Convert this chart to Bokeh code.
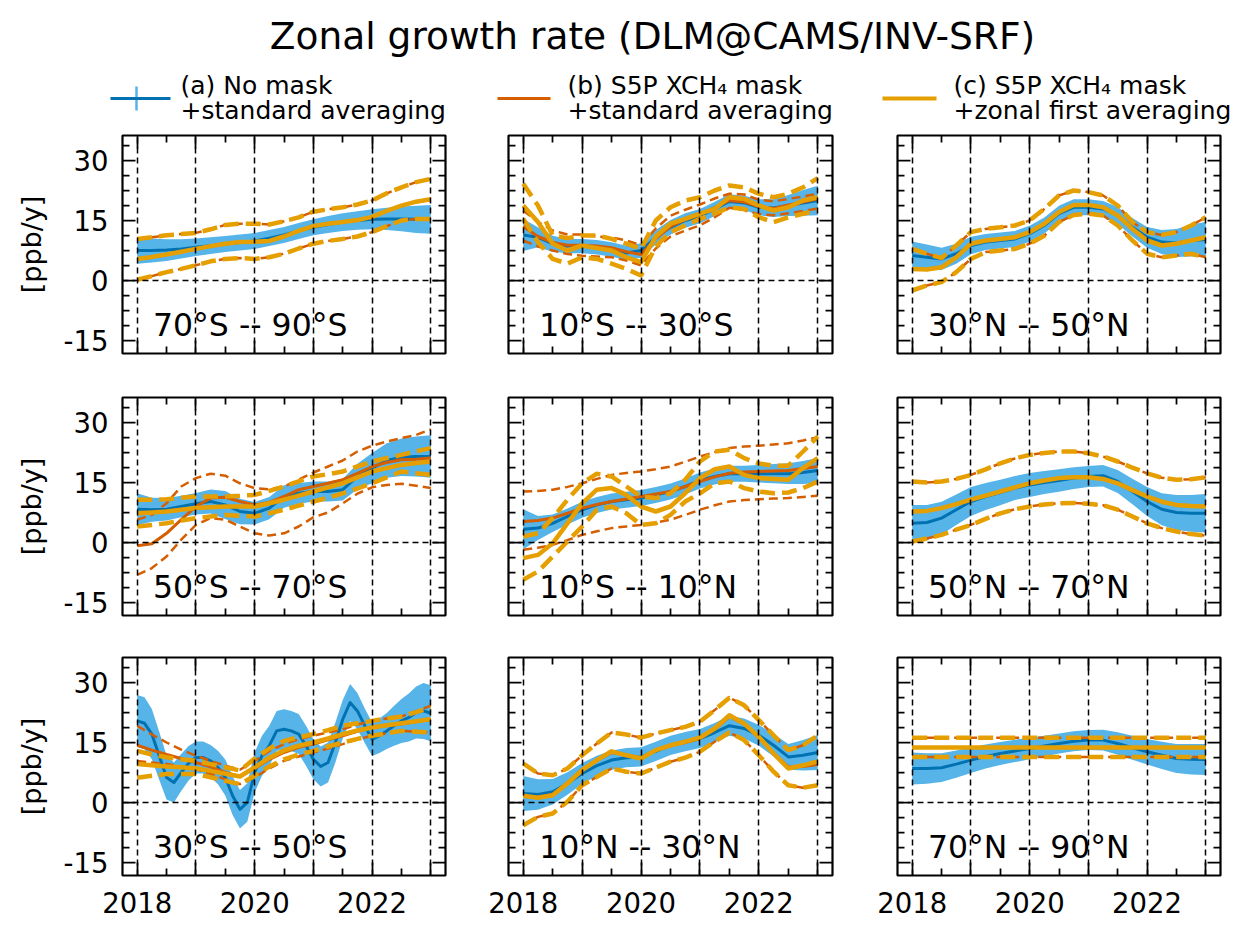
import numpy as np
from bokeh.plotting import figure
from bokeh.models import Range1d, FixedTicker, LinearAxis, Label, Grid, CustomJSTickFormatter
from bokeh.layouts import column, row
from bokeh.embed import file_html
from bokeh.resources import INLINE
from bokeh.core.properties import value

FONT = "DejaVu Sans"
BLUE = "#0072b2"
SKY = "#56b4e9"
VERM = "#d55e00"
GOLD = "#e69f00"

TITLE = "Zonal growth rate (DLM@CAMS/INV-SRF)"
LEGEND_LINES = [("(a) No mask", "+standard averaging"),
                ("(b) S5P XCH\u2084 mask", "+standard averaging"),
                ("(c) S5P XCH\u2084 mask", "+zonal first averaging")]
Y_LABEL = "[ppb/y]"

# time axes (decimal years)
T_Q = [2018.0, 2018.25, 2018.5, 2018.75, 2019.0, 2019.25, 2019.5, 2019.75, 2020.0, 2020.25,
       2020.5, 2020.75, 2021.0, 2021.25, 2021.5, 2021.75, 2022.0, 2022.25, 2022.5, 2022.75, 2023.0]
T_E = [2018.0, 2018.125, 2018.25, 2018.375, 2018.5, 2018.625, 2018.75, 2018.875, 2019.0, 2019.125,
       2019.25, 2019.375, 2019.5, 2019.625, 2019.75, 2019.875, 2020.0, 2020.125, 2020.25, 2020.375,
       2020.5, 2020.625, 2020.75, 2020.875, 2021.0, 2021.125, 2021.25, 2021.375, 2021.5, 2021.625,
       2021.75, 2021.875, 2022.0, 2022.125, 2022.25, 2022.375, 2022.5, 2022.625, 2022.75, 2022.875, 2023.0]

YEARS = [2018, 2019, 2020, 2021, 2022, 2023]
X_MINOR = [2018.5, 2019.5, 2020.5, 2021.5, 2022.5]
X_LABELS = {2018: "2018", 2019: "", 2020: "2020", 2021: "", 2022: "2022", 2023: ""}
Y_TICKS = [-15, 0, 15, 30]
Y_MINOR = [-11.25, -7.5, -3.75, 3.75, 7.5, 11.25, 18.75, 22.5, 26.25, 33.75]
Y_LABELS = {-15: "-15", 0: "0", 15: "15", 30: "30"}

# ---------------- 70°S -- 90°S ----------------
S70_90_a_mean = [7.5, 7.5, 7.6, 7.9, 8.3, 8.7, 9.1, 9.5, 9.9, 10.6, 11.4, 12.4, 13.3, 14.0, 14.6, 15.0, 15.3, 15.4, 15.4, 15.3, 15.3]
S70_90_a_unc = [3.3, 3.0, 2.7, 2.4, 2.2, 2.1, 2.0, 2.0, 2.0, 2.0, 2.0, 2.0, 2.0, 2.1, 2.2, 2.3, 2.5, 2.8, 3.1, 3.4, 3.6]
S70_90_c_mid = [5.4, 5.9, 6.5, 7.2, 7.9, 8.6, 9.2, 9.6, 9.7, 9.9, 11.0, 12.4, 13.6, 14.2, 14.6, 15.1, 15.9, 17.4, 18.7, 19.7, 20.3]
S70_90_c_hi = [10.4, 10.8, 11.3, 11.6, 11.9, 12.8, 13.9, 14.2, 14.2, 14.0, 14.8, 15.8, 17.2, 17.8, 18.3, 19.0, 20.0, 21.8, 23.3, 24.6, 25.4]
S70_90_c_lo = [0.2, 1.1, 2.1, 2.9, 3.8, 4.8, 5.4, 5.6, 5.4, 5.8, 6.7, 8.0, 9.2, 9.9, 10.4, 11.0, 12.1, 13.6, 15.0, 15.4, 15.4]
S70_90_b_mid = S70_90_c_mid
S70_90_b_hi = S70_90_c_hi
S70_90_b_lo = S70_90_c_lo

# ---------------- 10°S -- 30°S ----------------
S10_30_a_mean = [11.4, 10.8, 9.2, 8.6, 8.6, 8.3, 7.75, 6.9, 7.5, 10.8, 13.3, 15.0, 16.1, 17.9, 19.75, 19.4, 18.3, 18.1, 18.75, 19.4, 20.0]
S10_30_a_unc = [4.0, 2.5, 2.0, 1.8, 1.8, 1.8, 1.8, 1.8, 1.8, 1.8, 1.8, 1.8, 1.8, 1.8, 1.8, 1.8, 2.0, 2.2, 2.6, 3.2, 3.7]
S10_30_b_mid = [13.5, 11.0, 9.5, 8.8, 8.8, 8.6, 8.2, 7.2, 6.5, 10.5, 13.5, 15.2, 16.5, 18.2, 20.0, 19.6, 18.5, 18.0, 18.9, 19.6, 20.4]
S10_30_b_hi = [17.5, 14.6, 12.5, 11.5, 11.5, 11.0, 10.8, 10.0, 8.8, 13.0, 16.2, 17.7, 19.0, 20.5, 21.7, 21.5, 20.2, 19.8, 20.4, 21.0, 21.7]
S10_30_b_lo = [10.0, 8.5, 7.5, 6.6, 6.2, 6.0, 5.8, 5.0, 3.8, 8.0, 11.0, 12.5, 13.8, 15.8, 18.2, 17.6, 16.6, 16.3, 16.8, 17.4, 18.0]
S10_30_c_mid = [18.75, 14.6, 9.2, 7.5, 8.75, 8.1, 7.5, 5.8, 4.6, 11.0, 14.2, 15.4, 16.7, 17.9, 20.8, 20.4, 18.75, 17.5, 18.3, 20.0, 20.8]
S10_30_c_hi = [24.2, 18.75, 11.25, 10.6, 11.25, 11.25, 10.4, 9.2, 7.9, 15.0, 18.3, 20.0, 20.8, 22.5, 23.75, 23.3, 21.7, 20.8, 21.7, 23.3, 25.6]
S10_30_c_lo = [15.4, 9.6, 5.4, 4.2, 5.8, 5.4, 4.2, 2.9, 1.25, 8.5, 12.1, 13.75, 15.4, 16.7, 18.3, 17.9, 15.8, 14.6, 15.8, 16.7, 17.5]

# ---------------- 30°N -- 50°N ----------------
N30_50_a_mean = [6.25, 5.8, 5.4, 6.7, 8.75, 9.6, 10.0, 10.4, 11.7, 13.75, 16.7, 18.3, 18.3, 17.9, 16.25, 13.3, 10.8, 9.6, 9.4, 10.0, 10.25]
N30_50_a_unc = [3.5, 3.2, 2.8, 2.5, 2.2, 2.0, 2.0, 2.0, 2.0, 2.0, 2.0, 2.0, 2.0, 2.0, 2.1, 2.3, 2.6, 3.0, 3.5, 4.0, 4.4]
N30_50_c_mid = [2.9, 2.75, 3.3, 5.8, 9.2, 10.0, 10.4, 10.8, 12.1, 14.2, 17.1, 18.9, 18.9, 18.3, 16.25, 12.9, 10.0, 8.75, 9.2, 10.0, 10.8]
N30_50_c_hi = [7.9, 6.7, 5.6, 8.75, 12.1, 12.9, 13.3, 13.75, 15.0, 17.9, 21.25, 22.5, 22.1, 21.25, 18.75, 14.6, 12.1, 11.4, 12.1, 13.75, 15.8]
N30_50_c_lo = [-2.5, -1.25, -0.4, 2.1, 5.4, 7.1, 7.5, 7.9, 9.2, 11.2, 14.6, 16.4, 16.7, 16.25, 13.75, 10.0, 6.7, 5.8, 6.25, 6.7, 5.8]
N30_50_b_mid = N30_50_c_mid
N30_50_b_hi = N30_50_c_hi
N30_50_b_lo = N30_50_c_lo

# ---------------- 50°S -- 70°S ----------------
S50_70_a_mean = [8.3, 8.2, 8.3, 9.0, 9.7, 10.25, 9.4, 7.75, 7.3, 8.6, 11.5, 12.3, 12.75, 12.75, 13.2, 16.5, 18.6, 20.5, 21.3, 21.5, 21.5]
S50_70_a_unc = [4.0, 3.0, 2.8, 2.7, 2.7, 3.0, 3.5, 3.2, 2.8, 2.8, 2.8, 2.6, 2.5, 2.5, 2.7, 3.2, 3.8, 4.3, 4.7, 5.0, 5.3]
S50_70_b_mid = [-0.8, -0.3, 2.3, 5.7, 9.0, 11.1, 11.3, 10.25, 9.4, 10.0, 11.5, 13.2, 14.0, 14.8, 15.7, 17.3, 19.0, 20.0, 20.7, 20.8, 21.1]
S50_70_b_hi = [5.7, 6.9, 9.8, 14.0, 16.1, 17.2, 16.7, 14.8, 13.6, 13.3, 14.0, 15.7, 17.5, 19.0, 20.5, 22.75, 24.2, 25.25, 26.1, 26.9, 28.3]
S50_70_b_lo = [-8.1, -6.4, -3.5, 0.7, 4.4, 6.1, 5.7, 4.0, 2.3, 1.75, 2.3, 4.0, 6.3, 7.5, 9.8, 12.2, 13.8, 14.4, 14.7, 14.2, 13.6]
S50_70_c_mid = [7.3, 7.5, 7.75, 8.2, 8.6, 8.8, 9.0, 9.0, 9.0, 9.8, 10.7, 11.7, 12.75, 13.8, 14.8, 16.3, 17.75, 18.6, 19.4, 19.9, 20.25]
S50_70_c_hi = [10.7, 10.7, 10.8, 11.2, 11.5, 11.5, 11.5, 11.7, 11.9, 12.9, 14.0, 15.3, 16.5, 17.1, 17.75, 19.0, 20.25, 21.1, 21.9, 22.8, 23.6]
S50_70_c_lo = [4.0, 4.4, 4.8, 5.5, 6.1, 6.5, 6.9, 6.7, 6.5, 7.3, 8.2, 9.2, 10.25, 11.2, 12.3, 13.5, 14.8, 16.3, 17.75, 17.3, 16.9]

# ---------------- 10°S -- 10°N ----------------
EQ_a_mean = [3.3, 3.6, 4.8, 6.5, 8.2, 9.4, 10.25, 10.7, 11.1, 11.9, 12.75, 14.0, 15.5, 16.5, 17.2, 17.2, 17.2, 17.2, 17.2, 17.5, 18.0]
EQ_a_unc = [5.0, 3.0, 2.2, 2.0, 2.0, 2.0, 2.0, 2.0, 2.0, 2.0, 2.0, 2.0, 2.0, 2.0, 2.0, 2.0, 2.2, 2.4, 2.6, 2.9, 3.1]
EQ_b_mid = [5.25, 5.5, 6.1, 7.3, 8.6, 9.5, 10.25, 10.9, 11.5, 12.1, 12.75, 14.0, 15.25, 16.4, 17.3, 17.6, 17.75, 17.9, 18.0, 18.5, 19.0]
EQ_b_hi = [12.75, 12.9, 13.2, 13.9, 14.8, 15.9, 16.9, 17.4, 17.75, 18.3, 19.0, 20.2, 21.5, 22.6, 23.6, 24.0, 24.2, 24.5, 24.8, 25.5, 26.3]
EQ_b_lo = [-1.8, -1.3, -0.6, 0.6, 1.9, 2.8, 3.6, 4.0, 4.4, 5.0, 5.7, 6.9, 8.2, 9.3, 10.25, 10.6, 10.8, 11.0, 11.1, 11.4, 11.7]
EQ_c_mid = [-3.9, -3.1, -0.2, 4.8, 9.8, 13.2, 13.6, 11.9, 9.0, 7.75, 9.0, 12.3, 16.1, 18.3, 19.0, 16.9, 16.1, 15.9, 15.7, 18.6, 21.1]
EQ_c_hi = [1.5, 2.3, 6.1, 10.7, 14.8, 17.2, 16.5, 14.0, 11.5, 11.1, 12.3, 15.7, 20.25, 22.75, 23.2, 21.1, 19.75, 19.2, 19.2, 22.75, 26.5]
EQ_c_lo = [-9.3, -7.25, -3.5, 0.25, 4.0, 8.2, 9.0, 7.3, 4.4, 4.8, 6.9, 10.25, 12.3, 14.8, 15.25, 13.6, 12.75, 12.3, 12.5, 13.6, 15.25]

# ---------------- 50°N -- 70°N ----------------
N50_70_a_mean = [4.8, 5.0, 6.1, 8.2, 10.25, 11.5, 12.5, 13.6, 14.4, 15.0, 15.5, 16.1, 16.5, 16.7, 15.25, 12.75, 10.25, 8.3, 7.5, 7.3, 7.3]
N50_70_a_unc = [4.6, 4.4, 4.1, 3.8, 3.6, 3.4, 3.2, 3.0, 3.0, 2.9, 2.8, 2.7, 2.6, 2.7, 2.9, 3.2, 3.6, 4.0, 4.4, 4.6, 4.8]
N50_70_c_mid = [7.75, 7.9, 8.6, 9.6, 10.7, 11.7, 12.75, 13.8, 14.8, 15.5, 16.1, 16.3, 16.3, 15.9, 14.8, 13.1, 11.5, 10.2, 9.4, 9.1, 9.0]
N50_70_c_hi = [15.25, 15.0, 15.25, 15.9, 16.9, 18.3, 19.8, 21.0, 21.9, 22.4, 22.75, 22.75, 22.3, 21.5, 20.25, 18.7, 17.3, 16.2, 15.7, 15.8, 16.3]
N50_70_c_lo = [0.25, 1.0, 1.9, 3.2, 4.4, 5.9, 7.3, 8.3, 9.0, 9.5, 9.8, 9.9, 9.7, 9.3, 8.2, 6.5, 4.8, 3.6, 2.75, 2.1, 1.7]
N50_70_b_mid = N50_70_c_mid
N50_70_b_hi = N50_70_c_hi
N50_70_b_lo = N50_70_c_lo

# ---------------- 30°S -- 50°S ----------------
S30_50_a_mean = [20.4, 19.8, 17.1, 11.7, 6.25, 5.0, 7.5, 9.8, 11.25, 11.25, 10.4, 8.75, 6.25, 1.7, -1.7, 0.0,
                 7.5, 11.7, 14.2, 17.9, 18.3, 17.9, 17.1, 14.2, 10.8, 9.0, 10.0, 15.0, 20.8, 25.0, 22.9, 19.2,
                 15.8, 16.7, 17.9, 19.2, 20.4, 21.25, 22.5, 22.9, 22.3]
S30_50_a_unc = [6.5, 6.5, 6.3, 6.0, 5.5, 5.0, 4.6, 4.3, 4.0, 4.0, 4.0, 4.2, 4.5, 4.8, 4.8, 4.8,
                5.0, 5.0, 5.0, 5.0, 5.0, 5.0, 5.0, 5.0, 5.0, 5.0, 5.0, 5.0, 4.8, 4.6, 4.5, 4.3,
                4.2, 4.3, 4.5, 5.0, 5.5, 6.0, 6.5, 7.0, 7.0]
S30_50_b_mid = [14.3, 13.1, 12.0, 11.0, 10.0, 8.9, 7.5, 6.5, 8.5, 10.8, 12.5, 13.8, 14.6, 15.7, 16.7, 17.8, 18.75, 19.2, 19.6, 20.2, 20.8]
S30_50_b_hi = [19.2, 17.0, 15.0, 13.2, 11.7, 10.4, 9.2, 8.2, 10.4, 12.9, 14.6, 15.8, 16.7, 17.5, 18.3, 19.5, 20.4, 21.0, 21.5, 22.8, 24.2]
S30_50_b_lo = [10.4, 10.0, 9.6, 9.0, 8.3, 7.2, 5.8, 4.6, 6.3, 8.5, 10.4, 11.5, 12.5, 13.5, 14.6, 15.8, 16.7, 17.3, 17.9, 17.7, 17.5]
S30_50_c_mid = [9.6, 9.3, 9.0, 8.8, 8.5, 7.9, 7.2, 6.5, 8.8, 11.2, 13.0, 14.2, 15.0, 16.0, 17.1, 18.0, 18.75, 19.3, 19.8, 20.3, 20.8]
S30_50_c_hi = [12.9, 12.0, 11.3, 10.8, 10.4, 9.6, 8.8, 8.0, 11.0, 13.5, 15.4, 16.3, 17.1, 18.1, 19.2, 19.8, 20.4, 21.0, 21.5, 22.6, 23.75]
S30_50_c_lo = [6.2, 6.7, 7.1, 7.1, 7.1, 6.3, 5.4, 4.6, 6.7, 9.0, 10.8, 12.0, 12.9, 14.0, 15.0, 15.9, 16.7, 17.3, 17.9, 17.7, 17.5]

# ---------------- 10°N -- 30°N ----------------
N10_30_a_mean = [2.25, 2.0, 2.7, 4.75, 7.25, 9.2, 10.6, 11.2, 11.4, 12.8, 14.3, 15.2, 16.0, 17.5, 19.2, 18.5, 16.8, 14.3, 11.4, 11.8, 12.5]
N10_30_a_unc = [4.4, 3.8, 3.2, 2.8, 2.6, 2.5, 2.4, 2.4, 2.4, 2.4, 2.4, 2.4, 2.4, 2.4, 2.5, 2.5, 2.6, 2.8, 3.2, 3.8, 4.4]
N10_30_b_mid = [1.5, 1.3, 2.0, 4.9, 8.3, 10.5, 12.5, 11.9, 11.2, 13.0, 14.2, 15.0, 16.0, 18.3, 21.5, 19.6, 16.2, 12.3, 8.9, 9.0, 9.5]
N10_30_c_mid = [1.7, 1.2, 1.8, 4.75, 8.1, 10.6, 12.8, 11.8, 11.0, 13.1, 14.3, 15.2, 16.2, 18.5, 21.8, 19.75, 16.4, 12.25, 8.5, 9.3, 10.3]
N10_30_c_hi = [9.75, 7.25, 6.8, 8.5, 11.8, 14.75, 17.5, 17.0, 16.2, 17.25, 18.1, 18.9, 20.2, 23.1, 26.2, 24.3, 20.6, 16.8, 13.1, 14.3, 16.8]
N10_30_c_lo = [-5.7, -3.6, -2.75, 0.2, 4.3, 6.4, 8.5, 7.7, 7.25, 8.7, 10.2, 11.2, 12.7, 15.2, 17.5, 15.6, 11.8, 7.7, 4.3, 3.7, 4.3]
N10_30_b_hi = N10_30_c_hi
N10_30_b_lo = N10_30_c_lo

# ---------------- 70°N -- 90°N ----------------
N70_90_a_mean = [8.5, 8.5, 8.7, 9.6, 10.6, 11.5, 12.25, 12.9, 13.5, 14.1, 14.75, 15.3, 15.6, 15.6, 14.75, 13.7, 12.7, 11.8, 11.0, 10.8, 10.75]
N70_90_a_unc = [4.0, 3.8, 3.6, 3.4, 3.2, 3.0, 2.9, 2.8, 2.7, 2.6, 2.5, 2.5, 2.5, 2.6, 2.8, 3.0, 3.2, 3.4, 3.6, 3.8, 3.9]
N70_90_c_mid = [13.75, 13.75, 13.75, 13.75, 13.75, 13.75, 13.75, 13.75, 13.75, 13.75, 13.75,
                13.75, 13.75, 13.75, 13.75, 13.75, 13.75, 13.75, 13.75, 13.75, 13.75]
N70_90_c_hi = [16.2, 16.2, 16.2, 16.2, 16.2, 16.2, 16.2, 16.2, 16.2, 16.2, 16.2,
               16.2, 16.2, 16.2, 16.2, 16.2, 16.2, 16.2, 16.2, 16.2, 16.2]
N70_90_c_lo = [11.4, 11.4, 11.4, 11.4, 11.4, 11.4, 11.4, 11.4, 11.4, 11.4, 11.4,
               11.4, 11.4, 11.4, 11.4, 11.4, 11.4, 11.4, 11.4, 11.4, 11.4]
N70_90_b_mid = N70_90_c_mid
N70_90_b_hi = N70_90_c_hi
N70_90_b_lo = N70_90_c_lo

PANELS = {
    "S70_90": dict(label="70°S -- 90°S", a_t=T_Q, a_mean=S70_90_a_mean, a_unc=S70_90_a_unc,
                   b_mid=S70_90_b_mid, b_hi=S70_90_b_hi, b_lo=S70_90_b_lo,
                   c_mid=S70_90_c_mid, c_hi=S70_90_c_hi, c_lo=S70_90_c_lo),
    "S10_30": dict(label="10°S -- 30°S", a_t=T_Q, a_mean=S10_30_a_mean, a_unc=S10_30_a_unc,
                   b_mid=S10_30_b_mid, b_hi=S10_30_b_hi, b_lo=S10_30_b_lo,
                   c_mid=S10_30_c_mid, c_hi=S10_30_c_hi, c_lo=S10_30_c_lo),
    "N30_50": dict(label="30°N -- 50°N", a_t=T_Q, a_mean=N30_50_a_mean, a_unc=N30_50_a_unc,
                   b_mid=N30_50_b_mid, b_hi=N30_50_b_hi, b_lo=N30_50_b_lo,
                   c_mid=N30_50_c_mid, c_hi=N30_50_c_hi, c_lo=N30_50_c_lo),
    "S50_70": dict(label="50°S -- 70°S", a_t=T_Q, a_mean=S50_70_a_mean, a_unc=S50_70_a_unc,
                   b_mid=S50_70_b_mid, b_hi=S50_70_b_hi, b_lo=S50_70_b_lo,
                   c_mid=S50_70_c_mid, c_hi=S50_70_c_hi, c_lo=S50_70_c_lo),
    "EQ": dict(label="10°S -- 10°N", a_t=T_Q, a_mean=EQ_a_mean, a_unc=EQ_a_unc,
               b_mid=EQ_b_mid, b_hi=EQ_b_hi, b_lo=EQ_b_lo,
               c_mid=EQ_c_mid, c_hi=EQ_c_hi, c_lo=EQ_c_lo),
    "N50_70": dict(label="50°N -- 70°N", a_t=T_Q, a_mean=N50_70_a_mean, a_unc=N50_70_a_unc,
                   b_mid=N50_70_b_mid, b_hi=N50_70_b_hi, b_lo=N50_70_b_lo,
                   c_mid=N50_70_c_mid, c_hi=N50_70_c_hi, c_lo=N50_70_c_lo),
    "S30_50": dict(label="30°S -- 50°S", a_t=T_E, a_mean=S30_50_a_mean, a_unc=S30_50_a_unc,
                   b_mid=S30_50_b_mid, b_hi=S30_50_b_hi, b_lo=S30_50_b_lo,
                   c_mid=S30_50_c_mid, c_hi=S30_50_c_hi, c_lo=S30_50_c_lo),
    "N10_30": dict(label="10°N -- 30°N", a_t=T_Q, a_mean=N10_30_a_mean, a_unc=N10_30_a_unc,
                   b_mid=N10_30_b_mid, b_hi=N10_30_b_hi, b_lo=N10_30_b_lo,
                   c_mid=N10_30_c_mid, c_hi=N10_30_c_hi, c_lo=N10_30_c_lo),
    "N70_90": dict(label="70°N -- 90°N", a_t=T_Q, a_mean=N70_90_a_mean, a_unc=N70_90_a_unc,
                   b_mid=N70_90_b_mid, b_hi=N70_90_b_hi, b_lo=N70_90_b_lo,
                   c_mid=N70_90_c_mid, c_hi=N70_90_c_hi, c_lo=N70_90_c_lo),
}
LAYOUT = [["S70_90", "S10_30", "N30_50"],
          ["S50_70", "EQ", "N50_70"],
          ["S30_50", "N10_30", "N70_90"]]

# layout geometry (px)
COL_LEFT = [122, 32, 32]
COL_FRAME = [323, 324, 323]
COL_RIGHT = [31, 33, 14]
ROW_TOP = [11, 22, 21]
ROW_FRAME = 218
ROW_BOTTOM = [22, 21, 50]
EMPTY = CustomJSTickFormatter(code="return ''")


def style_axis(ax, labels):
    ax.axis_line_color = None
    ax.major_tick_in = 13
    ax.major_tick_out = 0
    ax.minor_tick_in = 7
    ax.minor_tick_out = 0
    ax.major_tick_line_width = 1.75
    ax.minor_tick_line_width = 1.75
    ax.major_tick_line_color = "black"
    ax.minor_tick_line_color = "black"
    ax.major_label_text_font = FONT
    ax.major_label_text_color = "black"
    if labels:
        ax.major_label_text_font_size = "27.5px"
    else:
        ax.major_label_text_font_size = "0px"
        ax.major_label_standoff = 0


def make_panel(key, r, c):
    d = PANELS[key]
    w = COL_LEFT[c] + COL_FRAME[c] + COL_RIGHT[c]
    h = ROW_TOP[r] + ROW_FRAME + ROW_BOTTOM[r]
    p = figure(width=w, height=h, x_range=Range1d(2017.75, 2023.25), y_range=Range1d(-18.25, 36.25),
               x_axis_type=None, y_axis_type=None, output_backend="svg", toolbar_location=None,
               min_border_left=COL_LEFT[c], min_border_right=COL_RIGHT[c],
               min_border_top=ROW_TOP[r], min_border_bottom=ROW_BOTTOM[r])
    p.outline_line_color = "black"
    p.outline_line_width = 2.2
    p.background_fill_color = "white"
    p.border_fill_color = "white"

    xt = FixedTicker(ticks=YEARS, minor_ticks=X_MINOR)
    yt = FixedTicker(ticks=Y_TICKS, minor_ticks=Y_MINOR)

    bottom = LinearAxis(ticker=xt)
    style_axis(bottom, r == 2)
    if r == 2:
        bottom.major_label_overrides = X_LABELS
        bottom.major_label_standoff = 16
    else:
        bottom.formatter = EMPTY
    p.add_layout(bottom, "below")

    top = LinearAxis(ticker=xt, formatter=EMPTY)
    style_axis(top, False)
    p.add_layout(top, "above")

    left = LinearAxis(ticker=yt)
    style_axis(left, c == 0)
    if c == 0:
        left.major_label_overrides = Y_LABELS
        left.major_label_standoff = 14
        left.axis_label = Y_LABEL
        left.axis_label_text_font = FONT
        left.axis_label_text_font_size = "27px"
        left.axis_label_text_font_style = "normal"
        left.axis_label_text_color = "black"
        left.axis_label_standoff = 14
    else:
        left.formatter = EMPTY
    p.add_layout(left, "left")

    right = LinearAxis(ticker=yt, formatter=EMPTY)
    style_axis(right, False)
    p.add_layout(right, "right")

    # data
    t = d["a_t"]
    mean = np.array(d["a_mean"])
    unc = np.array(d["a_unc"])
    p.varea(x=t, y1=mean - unc, y2=mean + unc, fill_color=SKY, fill_alpha=1.0)
    p.line(t, d["a_mean"], line_color=BLUE, line_width=3, line_join="round")

    p.line(T_Q, d["b_hi"], line_color=VERM, line_width=2.5, line_dash="9 5")
    p.line(T_Q, d["b_lo"], line_color=VERM, line_width=2.5, line_dash="9 5")
    p.line(T_Q, d["b_mid"], line_color=VERM, line_width=3, line_join="round")

    p.line(T_Q, d["c_hi"], line_color=GOLD, line_width=4.5, line_dash="15 7")
    p.line(T_Q, d["c_lo"], line_color=GOLD, line_width=4.5, line_dash="15 7")
    p.line(T_Q, d["c_mid"], line_color=GOLD, line_width=4.5, line_join="round")

    # dashed reference grid on top of data
    p.add_layout(Grid(dimension=0, ticker=FixedTicker(ticks=YEARS), grid_line_color="black",
                      grid_line_dash="6 4", grid_line_width=1.5, level="guide"))
    p.add_layout(Grid(dimension=1, ticker=FixedTicker(ticks=[0]), grid_line_color="black",
                      grid_line_dash="6 4", grid_line_width=1.5, level="guide"))

    p.add_layout(Label(x=2018.27, y=-11.0, text=d["label"], text_font=FONT, text_font_size="31.5px",
                       text_baseline="middle", text_align="left", text_color="black"))
    return p


# header: title + legend (coordinates in page pixels, y downwards)
HW, HH = 1240, 124
hdr = figure(width=HW, height=HH, x_range=Range1d(0, HW), y_range=Range1d(HH, 0),
             x_axis_type=None, y_axis_type=None, output_backend="svg", toolbar_location=None,
             min_border=0)
hdr.outline_line_color = None
hdr.text(x=[652], y=[35], text=[TITLE], text_align="center", text_baseline="middle",
         text_font=value(FONT), text_font_size="37.5px", text_color="black")

# legend handles
hdr.segment(x0=[136], y0=[86], x1=[136], y1=[110], line_color=SKY, line_width=2.5)
hdr.segment(x0=[110], y0=[98], x1=[170], y1=[98], line_color=BLUE, line_width=3)
hdr.segment(x0=[497], y0=[98], x1=[550], y1=[98], line_color=VERM, line_width=3)
hdr.segment(x0=[882], y0=[98], x1=[936], y1=[98], line_color=GOLD, line_width=4)
LEG_X = [180, 567, 953]
for lx, (l1, l2) in zip(LEG_X, LEGEND_LINES):
    hdr.text(x=[lx, lx], y=[85, 110], text=[l1, l2], text_align="left", text_baseline="middle",
             text_font=value(FONT), text_font_size="25px", text_color="black")

rows = []
for r, keys in enumerate(LAYOUT):
    rows.append(row(*[make_panel(k, r, c) for c, k in enumerate(keys)]))

layout = column(hdr, *rows)
open("out.html", "w").write(file_html(layout, INLINE))
